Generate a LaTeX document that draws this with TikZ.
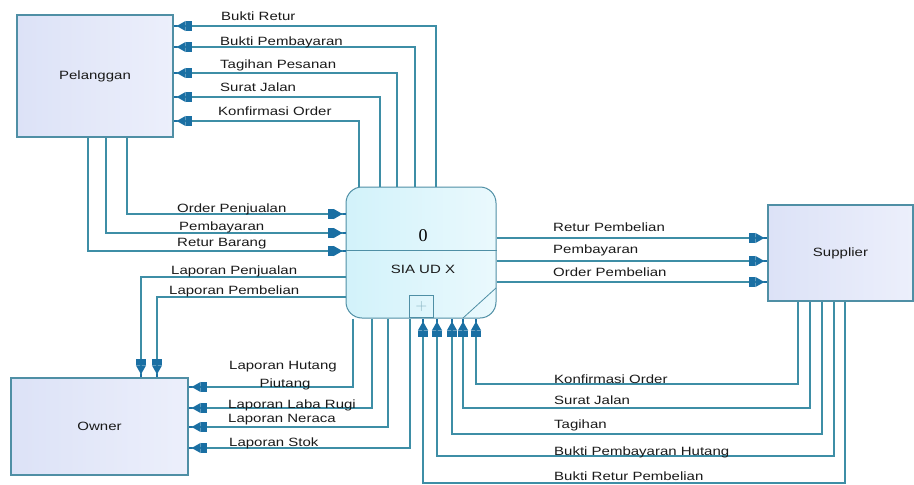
\documentclass[tikz,border=0pt]{standalone}
\usepackage{fontspec}
\usetikzlibrary{arrows.meta}
\newfontfamily\dfdfont[FakeStretch=1.25]{Liberation Sans}
\newfontfamily\numfont{Liberation Serif}
\definecolor{linec}{HTML}{3E8EA6}
\definecolor{tipc}{HTML}{1A6FA3}
\definecolor{boxc}{HTML}{4F8FA5}
\definecolor{extl}{HTML}{DCE2F7}
\definecolor{extr}{HTML}{ECEFFB}
\definecolor{procl}{HTML}{D2F2FA}
\definecolor{procr}{HTML}{EAF9FD}
\definecolor{txtc}{HTML}{1A1A1A}

\begin{document}
\begin{tikzpicture}[x=1pt,y=-1pt,
  ext/.style={draw=boxc,line width=1.4pt,left color=extl,right color=extr,
    font=\dfdfont\fontsize{12}{14}\selectfont,text=txtc},
  flow/.style={draw=linec,line width=1.1pt,
    -{Rectangle[length=6pt,width=10pt,color=tipc]Triangle[length=9pt,width=10pt,color=tipc]Rectangle[length=3pt,width=2.5pt,color=tipc]}},
  lbl/.style={font=\dfdfont\fontsize{12}{14}\selectfont,text=txtc,inner sep=0pt,anchor=base west}]
\useasboundingbox (0,0) rectangle (914,485);
% entitas luar
\node[ext,minimum width=156pt,minimum height=122pt] (pel) at (95,76) {Pelanggan};
\node[ext,minimum width=177pt,minimum height=97pt] (own) at (99.5,426.5) {Owner};
\node[ext,minimum width=145pt,minimum height=96pt] (sup) at (840.5,253) {Supplier};
% proses 0
\node[draw=boxc,line width=1pt,rounded corners=16pt,left color=procl,right color=procr,
  minimum width=150pt,minimum height=131pt] (proc) at (421,252.5) {};
\draw[boxc,line width=0.8pt] (proc.west |- 0,250) -- (proc.east |- 0,250);
\node[font=\numfont\fontsize{18}{18}\selectfont,text=black] (num) at (423,236) {0};
\node[font=\dfdfont\fontsize{12}{14}\selectfont,text=txtc] (nama) at (423,269) {SIA UD X};
\node[draw=boxc,line width=0.8pt,minimum width=24pt,minimum height=22pt,inner sep=0pt,
  anchor=south west,text=boxc!70,font=\fontsize{16}{16}\selectfont] (plus) at (409,318) {+};
\draw[boxc,line width=0.8pt] (463,318) -- (496,288);
% proses -> Pelanggan
\draw[flow] (proc.north -| 436,0) |- (pel.east |- 0,26);
\draw[flow] (proc.north -| 415,0) |- (pel.east |- 0,47);
\draw[flow] (proc.north -| 397,0) |- (pel.east |- 0,73);
\draw[flow] (proc.north -| 380,0) |- (pel.east |- 0,97);
\draw[flow] (proc.north -| 359,0) |- (pel.east |- 0,121);
\node[lbl] at (221,20) {Bukti Retur};
\node[lbl] at (220,45) {Bukti Pembayaran};
\node[lbl] at (220,68.5) {Tagihan Pesanan};
\node[lbl] at (220,91.5) {Surat Jalan};
\node[lbl] at (218,115) {Konfirmasi Order};
% Pelanggan -> proses
\draw[flow] (pel.south -| 127,0) |- (proc.west |- 0,214);
\draw[flow] (pel.south -| 106,0) |- (proc.west |- 0,233);
\draw[flow] (pel.south -| 88,0) |- (proc.west |- 0,251);
\node[lbl] at (177,212.5) {Order Penjualan};
\node[lbl] at (179,230) {Pembayaran};
\node[lbl] at (177,246.5) {Retur Barang};
% proses -> Owner
\draw[flow] (proc.west |- 0,277) -| (own.north -| 141,0);
\draw[flow] (proc.west |- 0,297) -| (own.north -| 157,0);
\node[lbl] at (171,274) {Laporan Penjualan};
\node[lbl] at (169,294) {Laporan Pembelian};
\draw[flow] (proc.south -| 353,0) |- (own.east |- 0,387);
\draw[flow] (proc.south -| 372,0) |- (own.east |- 0,408);
\draw[flow] (proc.south -| 388,0) |- (own.east |- 0,427);
\draw[flow] (proc.south -| 410,0) |- (own.east |- 0,448);
\node[lbl,anchor=base] at (283,369) {Laporan Hutang};
\node[lbl,anchor=base] at (285,387.5) {Piutang};
\node[lbl] at (228,408) {Laporan Laba Rugi};
\node[lbl] at (228,422.5) {Laporan Neraca};
\node[lbl] at (229,446.5) {Laporan Stok};
% proses -> Supplier
\draw[flow] (proc.east |- 0,238) -- (sup.west |- 0,238);
\draw[flow] (proc.east |- 0,261) -- (sup.west |- 0,261);
\draw[flow] (proc.east |- 0,282) -- (sup.west |- 0,282);
\node[lbl] at (553,231.5) {Retur Pembelian};
\node[lbl] at (553,253) {Pembayaran};
\node[lbl] at (553,276) {Order Pembelian};
% Supplier -> proses
\draw[flow] (sup.south -| 798,0) |- (476,384) -- (proc.south -| 476,0);
\draw[flow] (sup.south -| 810,0) |- (463,408) -- (proc.south -| 463,0);
\draw[flow] (sup.south -| 822,0) |- (452,434) -- (proc.south -| 452,0);
\draw[flow] (sup.south -| 834,0) |- (437,456) -- (proc.south -| 437,0);
\draw[flow] (sup.south -| 845,0) |- (423,483) -- (proc.south -| 423,0);
\node[lbl] at (554,383) {Konfirmasi Order};
\node[lbl] at (554,404) {Surat Jalan};
\node[lbl] at (554,428) {Tagihan};
\node[lbl] at (554,455) {Bukti Pembayaran Hutang};
\node[lbl] at (554,480) {Bukti Retur Pembelian};
\end{tikzpicture}
\end{document}
